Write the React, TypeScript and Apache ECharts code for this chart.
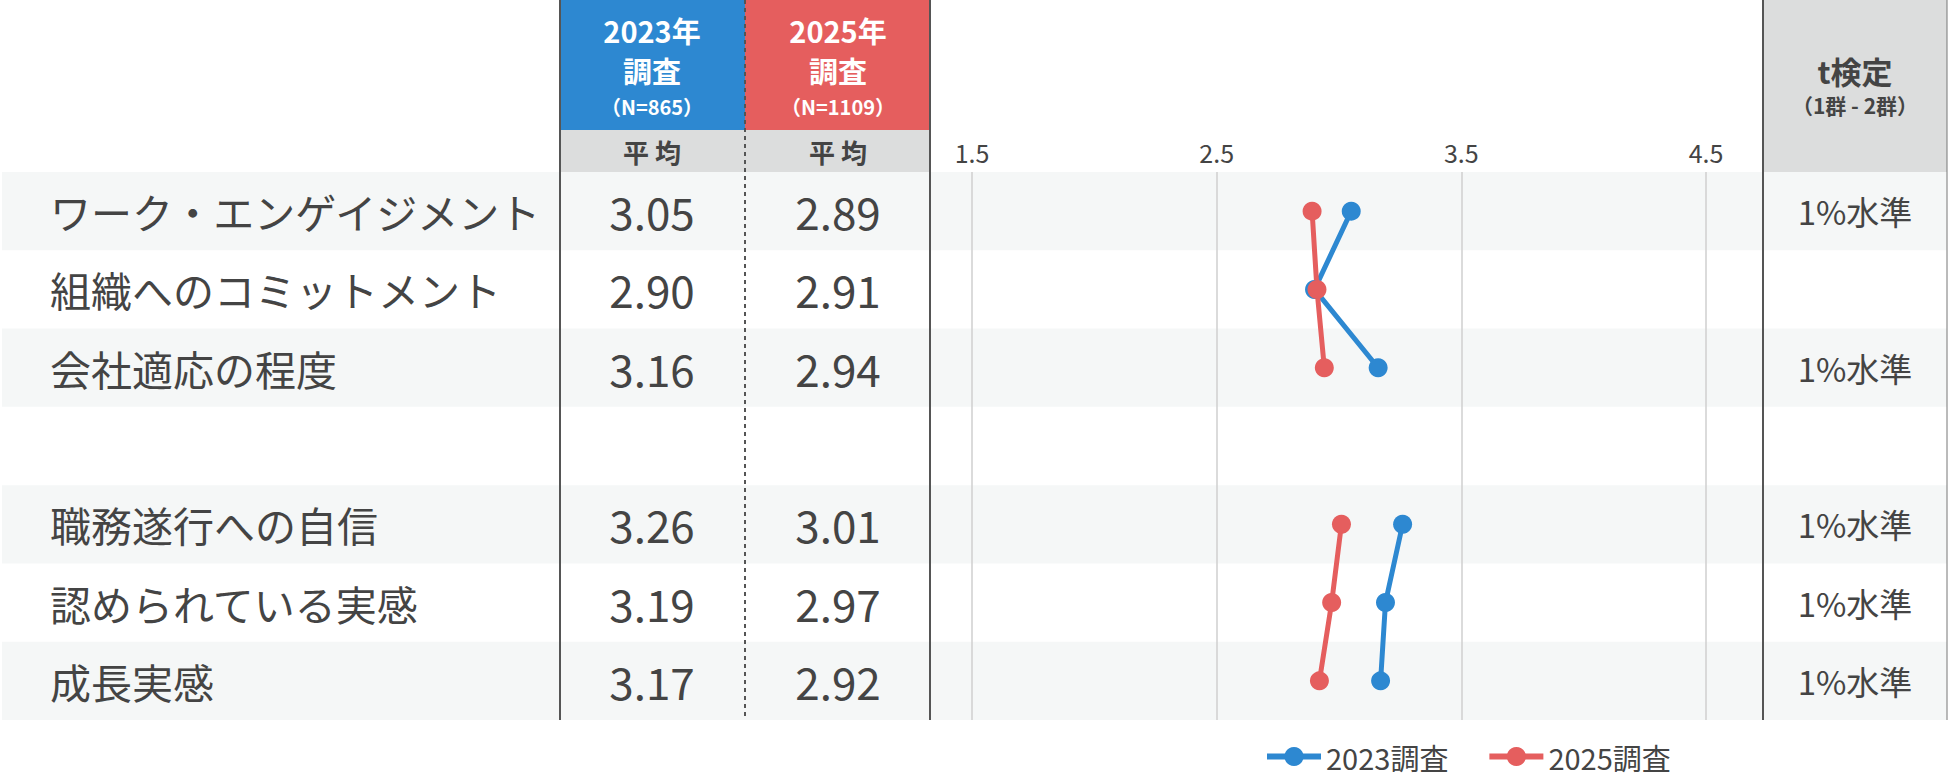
import React, { useEffect, useRef } from "react";
import * as echarts from "echarts";

const categories = [
  "ワーク・エンゲイジメント",
  "組織へのコミットメント",
  "会社適応の程度",
  "",
  "職務遂行への自信",
  "認められている実感",
  "成長実感",
];
const avg2023: (number | null)[] = [3.05, 2.9, 3.16, null, 3.26, 3.19, 3.17];
const avg2025: (number | null)[] = [2.89, 2.91, 2.94, null, 3.01, 2.97, 2.92];
const tTest = ["1%水準", "", "1%水準", "", "1%水準", "1%水準", "1%水準"];
const seriesNames = ["2023調査", "2025調査"];
const xTicks = { min: 1.5, max: 4.5, interval: 1 };

const W = 1950;
const H = 777;
const GRID_L = 972;
const GRID_R = 1706;
const TOP = 172;
const BOTTOM = 720;
const ROW_H = (BOTTOM - TOP) / categories.length;
const BLUE = "#2d88d1";
const RED = "#e55e5e";
const TEXT = "#444";
const FONT = "'Noto Sans CJK JP', 'Noto Sans', sans-serif";

export default function App() {
  const ref = useRef<HTMLDivElement>(null);
  useEffect(() => {
    document.body.style.margin = "0";
    const chart = echarts.init(ref.current!, null, { renderer: "svg" });

    const rowRects = categories
      .map((_, i) => i)
      .filter((i) => i % 2 === 0)
      .map((i) => ({
        type: "rect",
        z: -1,
        shape: { x: 2, y: TOP + i * ROW_H, width: 1945, height: ROW_H },
        style: { fill: "#f5f7f7" },
      }));

    const vline = (x: number, dash: boolean, color = "#555", w = 2) => ({
      type: "line",
      z: 5,
      shape: { x1: x, y1: 0, x2: x, y2: BOTTOM },
      style: { stroke: color, lineWidth: w, lineDash: dash ? [4, 4] : null },
    });

    const txt = (x: number, y: number, text: string, size: number, color: string) => ({
      type: "text",
      z: 10,
      x,
      y,
      style: {
        text,
        fill: color,
        fontSize: size,
        fontWeight: "bold",
        fontFamily: FONT,
        lineHeight: size,
        align: "center",
        verticalAlign: "middle",
      },
    });

    const labelAxis = (
      labels: string[],
      position: "left" | "right",
      margin: number,
      align: string,
      size: number
    ) => ({
      type: "category",
      data: categories,
      inverse: true,
      position,
      axisLine: { show: false },
      axisTick: { show: false },
      splitLine: { show: false },
      axisLabel: {
        interval: 0,
        margin,
        align,
        fontSize: size,
        color: TEXT,
        fontFamily: FONT,
        formatter: (_v: string, idx: number) => labels[idx],
      },
    });

    const fmt = (arr: (number | null)[]) => arr.map((v) => (v == null ? "" : v.toFixed(2)));

    chart.setOption({
      animation: false,
      textStyle: { fontFamily: FONT },
      grid: { left: GRID_L, right: W - GRID_R, top: TOP, bottom: H - BOTTOM },
      legend: {
        data: seriesNames,
        left: 1259,
        top: 737,
        itemWidth: 54,
        itemHeight: 24,
        itemGap: 38,
        lineStyle: { width: 6 },
        textStyle: { fontSize: 29, color: TEXT, fontFamily: FONT },
      },
      xAxis: {
        type: "value",
        position: "top",
        min: xTicks.min,
        max: xTicks.max,
        interval: xTicks.interval,
        axisLine: { show: false },
        axisTick: { show: false },
        axisLabel: {
          fontSize: 25,
          color: TEXT,
          margin: 8,
          formatter: (v: number) => v.toFixed(1),
        },
        splitLine: { show: true, lineStyle: { color: "#cfcfcf", width: 1.5 } },
      },
      yAxis: [
        labelAxis(categories, "left", GRID_L - 50, "left", 41),
        labelAxis(fmt(avg2023), "left", GRID_L - 652, "center", 44),
        labelAxis(fmt(avg2025), "left", GRID_L - 838, "center", 44),
        labelAxis(tTest, "right", 1855 - GRID_R, "center", 33),
      ],
      series: [
        {
          name: seriesNames[0],
          type: "line",
          yAxisIndex: 0,
          data: avg2023,
          symbol: "circle",
          symbolSize: 19,
          lineStyle: { color: BLUE, width: 5 },
          itemStyle: { color: BLUE },
          connectNulls: false,
        },
        {
          name: seriesNames[1],
          type: "line",
          yAxisIndex: 0,
          data: avg2025,
          symbol: "circle",
          symbolSize: 19,
          lineStyle: { color: RED, width: 5 },
          itemStyle: { color: RED },
          connectNulls: false,
        },
      ],
      graphic: [
        ...rowRects,
        { type: "rect", z: -1, shape: { x: 560, y: 0, width: 185, height: 130 }, style: { fill: BLUE } },
        { type: "rect", z: -1, shape: { x: 745, y: 0, width: 185, height: 130 }, style: { fill: RED } },
        { type: "rect", z: -1, shape: { x: 560, y: 130, width: 370, height: 42 }, style: { fill: "#dcdddd" } },
        { type: "rect", z: -1, shape: { x: 1763, y: 0, width: 184, height: TOP }, style: { fill: "#dcdddd" } },
        txt(652, 30, "2023年", 29, "#fff"),
        txt(652, 70, "調査", 29, "#fff"),
        txt(652, 106, "（N=865）", 20, "#fff"),
        txt(838, 30, "2025年", 29, "#fff"),
        txt(838, 70, "調査", 29, "#fff"),
        txt(838, 106, "（N=1109）", 20, "#fff"),
        txt(652, 151, "平 均", 26, TEXT),
        txt(838, 151, "平 均", 26, TEXT),
        txt(1855, 70, "t検定", 31, TEXT),
        txt(1855, 105, "（1群 - 2群）", 21, TEXT),
        vline(560, false),
        vline(745, true),
        vline(930, false),
        vline(1763, false),
        vline(1947, false, "#777", 1),
      ],
    });
    return () => chart.dispose();
  }, []);
  return (
    <div
      ref={ref}
      style={{ position: "fixed", left: 0, top: 0, width: W, height: H, background: "#fff" }}
    />
  );
}
